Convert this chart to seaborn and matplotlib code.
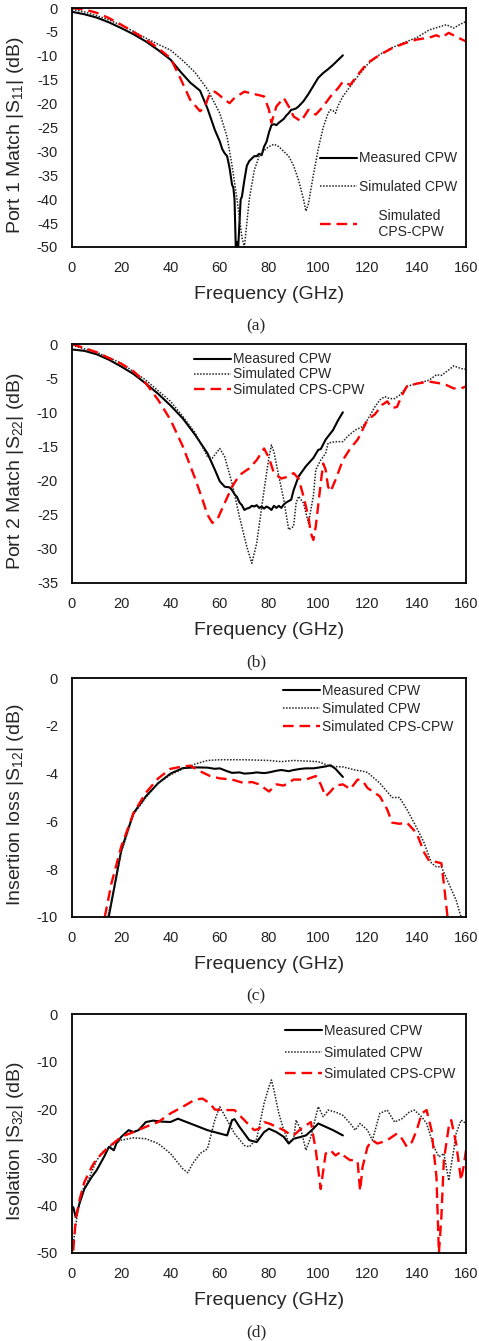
import numpy as np
import pandas as pd
import matplotlib
matplotlib.use("Agg")
import matplotlib.pyplot as plt
import seaborn as sns

# ---- (a) S11 ----
fa_meas = [0, 5, 10, 15, 20, 25, 30, 35, 40, 44, 48, 52, 55, 58, 60, 61, 62, 63, 64, 65,
           65.5, 66, 66.5, 67, 67.5, 68, 68.5, 69, 70, 71, 72, 73, 74, 75, 76, 77, 78, 79,
           80, 81, 82, 83, 84, 85, 86, 87, 88, 89, 90, 91, 92, 94, 96, 98, 100, 102, 104,
           106, 108, 110]
sa_meas = [-0.8, -1.3, -2.0, -3.0, -4.2, -5.5, -7.0, -8.8, -10.8, -13.3, -15.6, -17.3, -21.0,
           -25.5, -27.9, -29.5, -30.4, -31.0, -33.5, -37.0, -37.5, -40.0, -50.0, -49.0, -50.0,
           -45.0, -40.0, -39.5, -36.0, -33.0, -32.0, -31.5, -31.0, -31.0, -30.5, -30.8, -29.0,
           -28.0, -26.0, -24.5, -24.3, -24.5, -24.0, -23.6, -23.2, -22.5, -22.0, -21.3, -21.2,
           -21.0, -20.6, -19.5, -18.0, -16.3, -14.6, -13.6, -12.8, -11.9, -10.9, -9.9]

fa_simc = [0, 5, 10, 15, 20, 25, 30, 35, 40, 45, 50, 55, 60, 63, 65, 67, 68, 69, 70, 71, 72,
           74, 76, 78, 80, 82, 84, 86, 88, 90, 92, 94, 95, 96, 98, 100, 102, 104, 105, 106,
           107, 108, 110, 115, 120, 125, 130, 135, 140, 145, 150, 152, 155, 157, 160]
sa_simc = [-0.3, -0.8, -1.6, -2.5, -3.6, -4.9, -6.3, -7.6, -8.8, -11.0, -13.5, -17.0, -22.0,
           -27.0, -33.0, -40.0, -44.0, -48.0, -50.0, -45.0, -40.0, -34.0, -31.0, -29.8, -29.0,
           -28.5, -29.0, -30.0, -31.0, -33.0, -36.0, -40.0, -42.5, -41.0, -35.0, -29.5, -25.0,
           -22.0, -21.3, -21.5, -22.0, -20.5, -18.5, -15.0, -11.8, -9.7, -8.3, -7.2, -6.2,
           -4.6, -3.8, -3.5, -4.2, -3.6, -2.8]

fa_cps = [0, 5, 10, 15, 20, 25, 30, 35, 40, 44, 48, 52, 54, 56, 58, 60, 62, 64, 66, 70, 74,
          78, 80, 81, 83, 86, 88, 90, 93, 96, 99, 102, 105, 108, 110, 113, 116, 120, 125, 130,
          135, 140, 145, 148, 150, 153, 156, 160]
sa_cps = [0.0, -0.3, -1.0, -2.1, -3.5, -5.0, -6.6, -8.4, -10.5, -14.7, -19.2, -21.6, -20.6,
          -17.8, -17.5, -18.3, -19.2, -19.9, -18.8, -17.5, -18.0, -18.5, -21.3, -24.0, -20.6,
          -18.8, -20.6, -22.7, -23.7, -21.3, -22.3, -20.6, -18.5, -16.8, -15.4, -16.1, -14.0,
          -11.5, -9.8, -8.4, -7.4, -6.6, -6.2, -5.7, -6.2, -5.2, -6.0, -7.0]

# ---- (b) S22 ----
fb_meas = [0, 5, 10, 15, 20, 25, 30, 35, 40, 45, 50, 55, 58, 60, 62, 64, 65, 66, 67, 68, 69,
           70, 71, 72, 73, 74, 75, 76, 77, 78, 79, 80, 81, 82, 83, 84, 85, 86, 87, 88, 89,
           90, 92, 95, 98, 100, 101, 103, 106, 108, 110]
sb_meas = [-0.8, -1.0, -1.5, -2.3, -3.3, -4.4, -5.8, -7.3, -9.0, -10.9, -13.3, -16.0, -18.4,
           -20.1, -20.9, -21.0, -21.4, -22.0, -22.4, -23.2, -23.6, -24.3, -24.1, -24.0, -23.7,
           -23.8, -23.6, -24.0, -23.8, -24.1, -23.8, -24.0, -24.3, -23.7, -24.0, -23.7, -24.0,
           -23.5, -23.2, -23.0, -22.8, -21.4, -19.4, -17.9, -16.7, -15.5, -15.4, -14.0, -12.6,
           -11.2, -10.0]

fb_simc = [0, 10, 20, 30, 40, 45, 50, 55, 57, 60, 62, 65, 68, 71, 73, 75, 78, 80, 81, 82, 84,
           86, 88, 90, 91, 92, 94, 96, 98, 99, 101, 103, 104, 107, 110, 112, 115, 118, 120,
           123, 125, 127, 129, 131, 133, 136, 140, 145, 148, 150, 153, 155, 158, 160]
sb_simc = [-0.2, -1.2, -2.8, -5.3, -8.4, -10.6, -13.0, -16.5, -16.7, -15.3, -16.5, -20.4,
           -25.3, -29.7, -32.1, -29.2, -21.4, -16.5, -14.8, -15.8, -19.4, -22.8, -27.2, -26.7,
           -23.3, -22.3, -23.3, -26.2, -22.3, -18.4, -17.0, -16.0, -14.5, -14.3, -14.3, -13.5,
           -12.6, -12.1, -11.1, -9.2, -8.2, -7.7, -8.0, -8.0, -7.5, -6.2, -5.8, -5.3, -4.5,
           -4.6, -3.8, -3.2, -3.6, -3.7]

fb_cps = [0, 10, 20, 25, 30, 35, 40, 45, 50, 53, 55, 57, 59, 62, 65, 68, 72, 75, 78, 80, 82,
          85, 88, 90, 92, 94, 96, 97, 98, 99, 101, 102, 103, 104, 105, 107, 110, 113, 116,
          120, 123, 126, 128, 130, 132, 134, 136, 140, 145, 150, 152, 155, 158, 160]
sb_cps = [0.0, -1.2, -2.9, -4.0, -5.75, -8.2, -11.1, -15.0, -19.7, -22.8, -25.0, -26.2, -25.7,
          -23.3, -20.9, -19.2, -18.2, -17.0, -15.3, -16.7, -18.9, -19.7, -19.4, -18.9, -19.7,
          -22.3, -25.3, -27.7, -28.7, -26.7, -20.4, -17.5, -18.4, -20.9, -21.6, -19.9, -17.0,
          -15.3, -14.0, -11.1, -10.3, -8.9, -8.4, -9.4, -9.2, -7.5, -6.2, -5.8, -5.5, -5.8,
          -6.0, -6.5, -6.5, -6.2]

# ---- (c) S12 ----
fc_meas = [14.9, 17, 20, 25, 30, 35, 40, 45, 50, 55, 58, 60, 63, 65, 68, 70, 73, 75, 78, 80,
           83, 85, 88, 90, 93, 95, 98, 100, 103, 105, 107, 110]
sc_meas = [-10.0, -8.85, -7.2, -5.65, -4.95, -4.4, -4.0, -3.77, -3.74, -3.75, -3.8, -3.78,
           -3.9, -3.97, -3.95, -4.0, -3.98, -3.95, -3.98, -3.95, -3.88, -3.85, -3.9, -3.85,
           -3.8, -3.78, -3.78, -3.75, -3.7, -3.65, -3.8, -4.14]

fc_simc = [14.5, 17, 20, 25, 30, 35, 40, 45, 50, 55, 60, 70, 80, 85, 90, 100, 105, 110, 115,
           118, 120, 125, 130, 133, 136, 140, 143, 146, 148, 150, 153, 156, 158]
sc_simc = [-10.0, -8.9, -7.3, -5.7, -5.0, -4.4, -4.05, -3.8, -3.6, -3.45, -3.42, -3.42, -3.45,
           -3.5, -3.45, -3.5, -3.7, -3.72, -3.85, -3.9, -3.95, -4.4, -5.0, -5.0, -5.5, -6.27,
           -6.9, -7.75, -7.9, -7.9, -8.6, -9.3, -10.0]

fc_cps = [13.3, 16, 20, 25, 30, 35, 40, 45, 48, 52, 56, 60, 65, 70, 73, 76, 80, 83, 86, 90,
          95, 99, 101, 103, 105, 107, 110, 113, 116, 118, 120, 125, 128, 130, 133, 136, 140,
          143, 145, 148, 150, 151, 152.5]
sc_cps = [-10.0, -8.6, -7.05, -5.65, -4.8, -4.2, -3.8, -3.7, -3.67, -3.9, -4.1, -4.2, -4.25,
          -4.4, -4.35, -4.45, -4.75, -4.45, -4.5, -4.25, -4.25, -4.1, -4.45, -4.95, -4.75,
          -4.5, -4.45, -4.65, -4.25, -4.3, -4.6, -4.95, -5.5, -6.05, -6.1, -6.05, -6.5, -7.3,
          -7.65, -7.7, -7.75, -8.6, -10.0]

# ---- (d) S32 ----
fd_meas = [0.5, 1.5, 3, 5, 8, 10, 13, 15, 17, 18, 20, 23, 25, 27, 30, 33, 36, 40, 43, 46, 50,
           55, 60, 63, 65, 66, 68, 70, 72, 75, 78, 80, 83, 86, 88, 90, 93, 95, 98, 100, 103,
           106, 110]
sd_meas = [-40.4, -42.5, -39.7, -36.6, -34.1, -32.7, -29.9, -27.8, -28.5, -27.1, -25.7, -24.3,
           -24.7, -24.3, -22.6, -22.3, -22.5, -22.6, -21.9, -22.5, -23.3, -24.3, -25.0, -25.4,
           -22.2, -22.0, -23.6, -25.0, -26.4, -26.8, -24.7, -24.0, -24.7, -25.7, -27.1, -26.1,
           -25.7, -25.4, -24.0, -22.9, -23.6, -24.3, -25.4]

fd_simc = [0.5, 2, 4, 6, 10, 13, 16, 20, 25, 30, 35, 40, 45, 47, 49, 52, 55, 58, 60, 63, 66,
           70, 72, 75, 78, 80, 81, 82, 84, 86, 88, 90, 91, 93, 95, 97, 100, 102, 104, 107,
           110, 113, 115, 117, 120, 122, 125, 128, 131, 134, 137, 139, 142, 144, 147, 149,
           151, 153, 155, 156, 158, 160]
sd_simc = [-48.0, -42.5, -37.0, -35.5, -30.6, -28.5, -27.5, -26.4, -25.9, -26.1, -27.1, -29.2,
           -32.4, -33.2, -31.3, -29.2, -28.2, -22.2, -19.4, -22.2, -25.0, -27.5, -27.8, -26.1,
           -18.7, -15.2, -13.8, -15.9, -20.8, -24.3, -26.8, -26.1, -22.2, -24.3, -28.5, -25.7,
           -19.4, -21.5, -20.1, -20.5, -21.2, -22.9, -24.3, -22.9, -24.3, -26.4, -20.8, -20.1,
           -22.6, -21.9, -20.5, -20.1, -21.5, -22.9, -27.8, -29.9, -29.2, -34.8, -28.5, -25.0,
           -22.2, -22.9]

fd_cps = [0.5, 1.5, 3, 5, 8, 10, 15, 20, 25, 30, 35, 40, 45, 50, 53, 56, 58, 62, 66, 68, 70,
          72, 74, 76, 78, 80, 83, 86, 88, 90, 93, 95, 97, 99, 101, 103, 105, 107, 109, 111,
          113, 115, 116, 117, 118, 120, 122, 124, 126, 128, 130, 132, 134, 136, 138, 140, 142,
          144, 146, 148, 149, 150, 151, 153, 154, 156, 158, 159, 160]
sd_cps = [-49.5, -43.0, -39.0, -35.2, -32.0, -30.3, -27.8, -25.7, -24.7, -23.6, -22.6, -20.8,
          -19.4, -17.9, -17.7, -18.7, -20.0, -20.1, -20.1, -21.2, -22.2, -23.3, -24.3, -24.0,
          -22.6, -22.9, -23.6, -24.3, -25.0, -25.4, -24.0, -23.3, -22.6, -28.5, -36.6, -29.2,
          -28.5, -29.6, -28.9, -29.9, -30.6, -30.5, -31.0, -37.0, -32.0, -27.8, -26.4, -27.1,
          -26.8, -26.4, -25.7, -25.0, -26.1, -27.8, -26.8, -24.3, -20.8, -20.1, -24.3, -34.1,
          -50.0, -42.5, -30.6, -23.6, -22.2, -27.1, -34.8, -32.0, -28.5]

series_labels = ["Measured CPW", "Simulated CPW", "Simulated CPS-CPW"]
x_ticks = [0, 20, 40, 60, 80, 100, 120, 140, 160]

sns.set_style("white")
plt.rcParams["font.family"] = ["Liberation Sans", "DejaVu Sans"]
plt.rcParams["mathtext.default"] = "regular"
plt.rcParams["axes.unicode_minus"] = False

fig = plt.figure(figsize=(4.79, 13.41), dpi=100)

left, width, height = 72 / 479, 394 / 479, 239 / 1341
tops = [8, 344, 678, 1014]

panels = [
    dict(data=[(fa_meas, sa_meas), (fa_simc, sa_simc), (fa_cps, sa_cps)],
         ylim=(-50, 0), yticks=np.arange(-50, 1, 5),
         ylabel=r"Port 1 Match |S$_{11}$| (dB)", cap="(a)",
         leg=dict(anchor=(0.63, 0.40), spacing=1.05,
                  labels=["Measured CPW", "Simulated CPW", "     Simulated\n     CPS-CPW"])),
    dict(data=[(fb_meas, sb_meas), (fb_simc, sb_simc), (fb_cps, sb_cps)],
         ylim=(-35, 0), yticks=np.arange(-35, 1, 5),
         ylabel=r"Port 2 Match |S$_{22}$| (dB)", cap="(b)",
         leg=dict(anchor=(0.31, 0.965), spacing=0.08, labels=series_labels)),
    dict(data=[(fc_meas, sc_meas), (fc_simc, sc_simc), (fc_cps, sc_cps)],
         ylim=(-10, 0), yticks=np.arange(-10, 1, 2),
         ylabel=r"Insertion loss |S$_{12}$| (dB)", cap="(c)",
         leg=dict(anchor=(0.536, 0.975), spacing=0.28, labels=series_labels)),
    dict(data=[(fd_meas, sd_meas), (fd_simc, sd_simc), (fd_cps, sd_cps)],
         ylim=(-50, 0), yticks=np.arange(-50, 1, 10),
         ylabel=r"Isolation |S$_{32}$| (dB)", cap="(d)",
         leg=dict(anchor=(0.54, 0.958), spacing=0.55, labels=series_labels)),
]

styles = [
    dict(color="black", lw=1.5, linestyle="-"),
    dict(color="#222222", lw=1.1, linestyle=(0, (1, 1))),
    dict(color="#ff0000", lw=1.7, linestyle=(0, (4.5, 2.5))),
]

for p, top in zip(panels, tops):
    bottom = 1 - (top + 239) / 1341
    ax = fig.add_axes([left, bottom, width, height])
    for (f, s), st, lab in zip(p["data"], styles, p["leg"]["labels"]):
        df = pd.DataFrame({"freq": f, "dB": s})
        sns.lineplot(data=df, x="freq", y="dB", ax=ax, label=lab, sort=False,
                     color=st["color"], linewidth=st["lw"], linestyle=st["linestyle"])
    ax.set_xlim(0, 160)
    ax.set_ylim(*p["ylim"])
    ax.set_xticks(x_ticks)
    ax.set_yticks(p["yticks"])
    ax.tick_params(direction="in", length=4, width=1.2, labelsize=10.5,
                   labelcolor="#222222")
    ax.tick_params(axis="x", pad=10)
    ax.tick_params(axis="y", pad=10)
    for sp in ax.spines.values():
        sp.set_visible(True)
        sp.set_color("black")
        sp.set_linewidth(1.3)
    ax.set_xlabel("Frequency (GHz)", fontsize=14, labelpad=8)
    ax.set_ylabel(p["ylabel"], fontsize=14)
    ax.yaxis.set_label_coords(-0.117, 0.47)
    leg = ax.legend(loc="upper left", bbox_to_anchor=p["leg"]["anchor"], frameon=False,
                    fontsize=10, handlelength=2.65, handletextpad=0.15,
                    labelspacing=p["leg"]["spacing"], borderpad=0, borderaxespad=0)
    fig.text(256 / 479, 1 - (top + 318) / 1341, p["cap"], ha="center", va="center",
             fontsize=12.5, family="Liberation Serif")

fig.savefig("out.png", dpi=100)
